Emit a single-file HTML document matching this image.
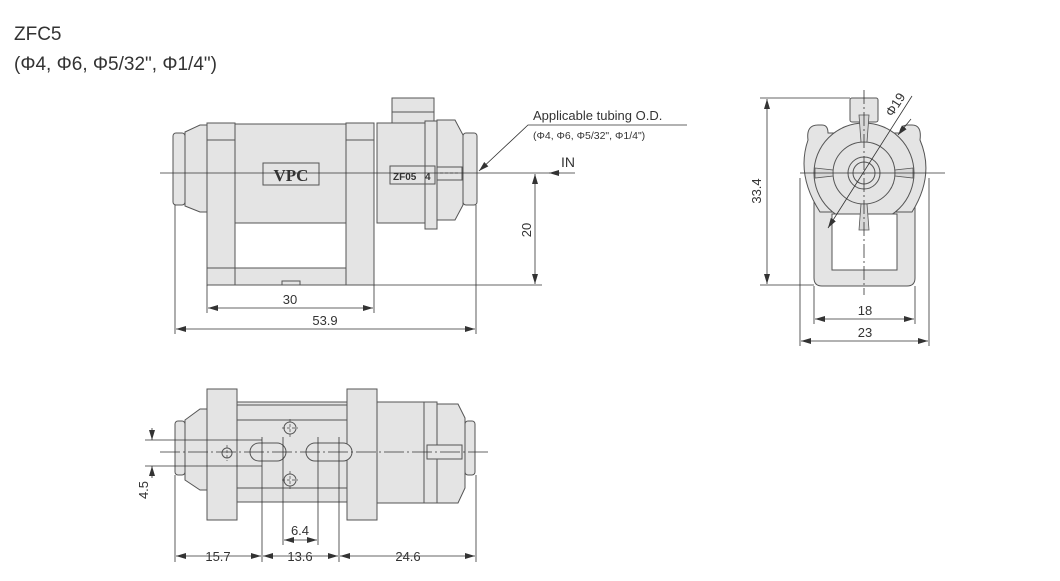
<!DOCTYPE html>
<html><head><meta charset="utf-8"><style>
html,body{margin:0;padding:0;background:#fff;width:1060px;height:581px;overflow:hidden}
svg{display:block}
text{font-family:"Liberation Sans",sans-serif;fill:#333}
</style></head><body>
<svg width="1060" height="581" viewBox="0 0 1060 581" xmlns="http://www.w3.org/2000/svg">
<defs>
<marker id="a" viewBox="0 0 10 6" refX="10" refY="3" markerWidth="10" markerHeight="6" orient="auto-start-reverse" markerUnits="userSpaceOnUse"><path d="M0,0L10,3L0,6z" fill="#333"/></marker>
</defs>
<text x="14" y="40" font-size="19">ZFC5</text>
<text x="14" y="70" font-size="19">(Φ4, Φ6, Φ5/32", Φ1/4")</text>

<g fill="#e4e4e4" stroke="#555" stroke-width="1">
<rect x="173" y="133" width="12" height="72" rx="3"/>
<path d="M185,132 L200,125 L207,125 L207,212 L200,212 L185,206 Z"/>
<rect x="207" y="123" width="28" height="162"/>
<rect x="235" y="124" width="111" height="99"/>
<rect x="235" y="268" width="111" height="17"/>
<rect x="346" y="123" width="28" height="162"/>
<rect x="282" y="281" width="18" height="4"/>
<rect x="392" y="98" width="42" height="25"/>
<rect x="377" y="123" width="48" height="100"/>
<rect x="425" y="121" width="12" height="108"/>
<path d="M437,120 L455,120 L463,135 L463,205 L455,220 L437,220 Z"/>
<rect x="463" y="133" width="14" height="72" rx="3"/>
<rect x="437" y="167" width="25" height="13" />
</g>
<g fill="none" stroke="#555" stroke-width="1">
<line x1="207" y1="140" x2="235" y2="140"/><line x1="346" y1="140" x2="374" y2="140"/>
<line x1="207" y1="268" x2="235" y2="268"/>
<rect x="263" y="163" width="56" height="22" fill="#e4e4e4"/>
<rect x="390" y="166" width="45" height="18"/>
<line x1="392" y1="112" x2="434" y2="112"/>
<line x1="440" y1="173" x2="460" y2="173" stroke-dasharray="3,2"/>
</g>
<text x="291" y="181" font-size="17" font-weight="bold" text-anchor="middle" style="font-family:'Liberation Serif',serif">VPC</text>
<text x="393" y="180" font-size="10" font-weight="bold">ZF05</text><text x="425" y="180" font-size="10" font-weight="bold">4</text>

<g stroke="#333" stroke-width="0.8" fill="none">
<line x1="160" y1="173" x2="560" y2="173"/>
<line x1="549" y1="173" x2="575" y2="173" marker-start="url(#a)"/>
<line x1="374" y1="285" x2="542" y2="285"/>
<line x1="535" y1="174" x2="535" y2="284" marker-start="url(#a)" marker-end="url(#a)"/>
<line x1="207" y1="285" x2="207" y2="313"/><line x1="374" y1="285" x2="374" y2="313"/>
<line x1="208" y1="308" x2="373" y2="308" marker-start="url(#a)" marker-end="url(#a)"/>
<line x1="175" y1="205" x2="175" y2="334"/><line x1="476" y1="205" x2="476" y2="334"/>
<line x1="176" y1="329" x2="475" y2="329" marker-start="url(#a)" marker-end="url(#a)"/>
<polyline points="687,125 528,125 479,171" marker-end="url(#a)"/>
</g>
<text x="561" y="167" font-size="14">IN</text>
<text x="290" y="304" font-size="13" text-anchor="middle">30</text>
<text x="325" y="325" font-size="13" text-anchor="middle">53.9</text>
<text x="531" y="230" font-size="13" text-anchor="middle" transform="rotate(-90 531 230)">20</text>
<text x="533" y="120" font-size="13">Applicable tubing O.D.</text>
<text x="533" y="139" font-size="10.5">(Φ4, Φ6, Φ5/32", Φ1/4")</text>

<g fill="#e4e4e4" stroke="#555" stroke-width="1">
<rect x="850" y="98" width="28" height="24" rx="2"/>
<path d="M814,200 L814,278 Q814,286 822,286 L907,286 Q915,286 915,278 L915,200 Z"/>
<path d="M808,140 Q806,125 818,125 L822,125 Q828,125 828,133 L900,133 Q900,125 908,125 L912,125 Q922,125 920,140 Q935,175 912,212 L820,212 Q796,175 808,140 Z"/>
<circle cx="864" cy="173" r="50"/>
<circle cx="864" cy="173" r="31"/>
<circle cx="864" cy="173" r="16"/>
<circle cx="864" cy="173" r="11"/>
<rect x="832" y="214" width="65" height="56" fill="#fff"/>
</g>
<g fill="#d8d8d8" stroke="#555" stroke-width="0.8">
<path d="M859,115 L869,115 L867,142 L861,142 Z"/>
<path d="M859,230 L869,230 L867,204 L861,204 Z"/>
<path d="M815,168 L833,170 L833,176 L815,178 Z"/>
<path d="M913,168 L895,170 L895,176 L913,178 Z"/>
</g>
<g stroke="#333" stroke-width="0.8" fill="none">
<line x1="800" y1="173" x2="945" y2="173"/>
<line x1="864" y1="90" x2="864" y2="295" stroke-dasharray="14,3,2,3"/>
<line x1="760" y1="98" x2="850" y2="98"/><line x1="760" y1="285" x2="814" y2="285"/>
<line x1="767" y1="99" x2="767" y2="284" marker-start="url(#a)" marker-end="url(#a)"/>
<line x1="814" y1="286" x2="814" y2="324"/><line x1="915" y1="286" x2="915" y2="324"/>
<line x1="815" y1="319" x2="914" y2="319" marker-start="url(#a)" marker-end="url(#a)"/>
<line x1="800" y1="178" x2="800" y2="346"/><line x1="929" y1="178" x2="929" y2="346"/>
<line x1="801" y1="341" x2="928" y2="341" marker-start="url(#a)" marker-end="url(#a)"/>
<line x1="828" y1="228" x2="912" y2="96" marker-start="url(#a)"/>
<line x1="898" y1="135" x2="911" y2="119" marker-start="url(#a)" />
</g>
<text x="761" y="191" font-size="13" text-anchor="middle" transform="rotate(-90 761 191)">33.4</text>
<text x="865" y="315" font-size="13" text-anchor="middle">18</text>
<text x="865" y="337" font-size="13" text-anchor="middle">23</text>
<text x="899" y="107" font-size="13" text-anchor="middle" transform="rotate(-57 899 107)">Φ19</text>

<g fill="#e4e4e4" stroke="#555" stroke-width="1">
<rect x="175" y="421" width="10" height="54" rx="3"/>
<path d="M185,420 L200,409 L207,409 L207,490 L200,490 L185,480 Z"/>
<rect x="207" y="402" width="140" height="100"/>
<rect x="207" y="389" width="30" height="131"/>
<rect x="347" y="389" width="30" height="131"/>
<rect x="237" y="405" width="110" height="15"/>
<rect x="237" y="488" width="110" height="14"/>
<rect x="377" y="402" width="47" height="101"/>
<rect x="424" y="402" width="13" height="101"/>
<path d="M437,404 L458,404 L465,418 L465,488 L458,503 L437,503 Z"/>
<rect x="465" y="421" width="10" height="54" rx="3"/>
<rect x="427" y="445" width="35" height="14"/>
<rect x="250" y="443" width="36" height="18" rx="9"/>
<rect x="306" y="443" width="46" height="18" rx="9"/>
<circle cx="227" cy="453" r="5"/>
<circle cx="290" cy="428" r="6"/>
<circle cx="290" cy="480" r="6"/>
</g>
<g stroke="#444" stroke-width="0.7" fill="none" stroke-dasharray="3,2">
<line x1="290" y1="419" x2="290" y2="437"/><line x1="282" y1="428" x2="298" y2="428"/>
<line x1="290" y1="471" x2="290" y2="489"/><line x1="282" y1="480" x2="298" y2="480"/>
<line x1="227" y1="445" x2="227" y2="461"/>
</g>
<g stroke="#333" stroke-width="0.8" fill="none">
<line x1="160" y1="452" x2="490" y2="452" stroke-dasharray="20,3,2,3"/>
<line x1="145" y1="440" x2="262" y2="440"/><line x1="145" y1="466" x2="262" y2="466"/>
<line x1="152" y1="428" x2="152" y2="440" marker-end="url(#a)"/>
<line x1="152" y1="478" x2="152" y2="466" marker-end="url(#a)"/>
<line x1="175" y1="475" x2="175" y2="562"/>
<line x1="262" y1="437" x2="262" y2="562"/>
<line x1="283" y1="437" x2="283" y2="545"/>
<line x1="318" y1="437" x2="318" y2="545"/>
<line x1="339" y1="437" x2="339" y2="562"/>
<line x1="476" y1="475" x2="476" y2="562"/>
<line x1="284" y1="540" x2="317" y2="540" marker-start="url(#a)" marker-end="url(#a)"/>
<line x1="176" y1="556" x2="261" y2="556" marker-start="url(#a)" marker-end="url(#a)"/>
<line x1="263" y1="556" x2="338" y2="556" marker-start="url(#a)" marker-end="url(#a)"/>
<line x1="340" y1="556" x2="475" y2="556" marker-start="url(#a)" marker-end="url(#a)"/>
</g>
<text x="148" y="490" font-size="13" text-anchor="middle" transform="rotate(-90 148 490)">4.5</text>
<text x="300" y="535" font-size="13" text-anchor="middle">6.4</text>
<text x="218" y="561" font-size="13" text-anchor="middle">15.7</text>
<text x="300" y="561" font-size="13" text-anchor="middle">13.6</text>
<text x="408" y="561" font-size="13" text-anchor="middle">24.6</text>
</svg>
</body></html>
